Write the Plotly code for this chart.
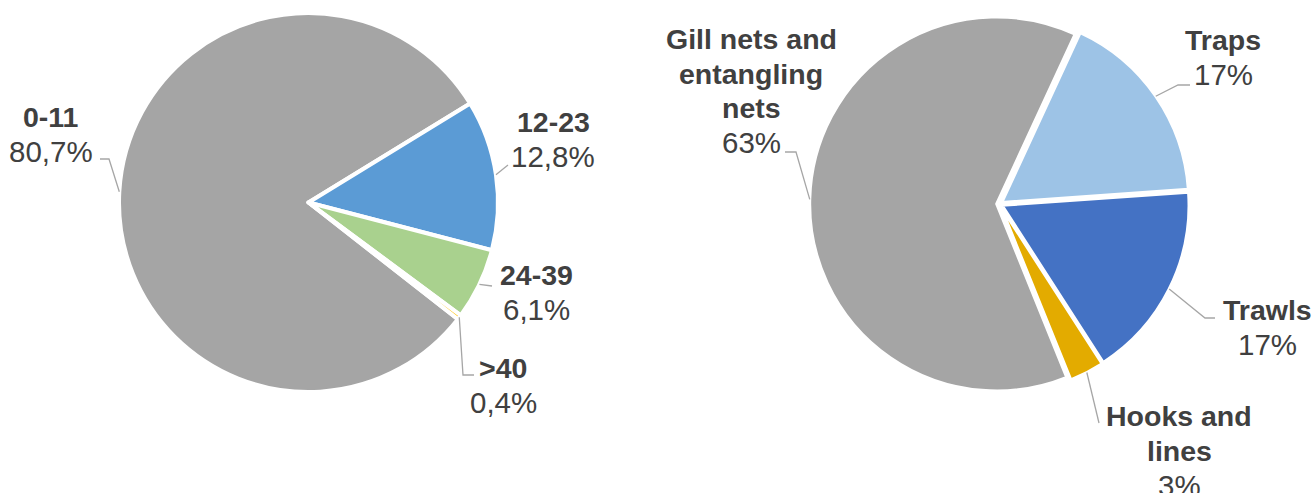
import math
import plotly.graph_objects as go

# ---------------- data ----------------
size_labels = ["0-11", "12-23", "24-39", ">40"]
size_values = [80.7, 12.8, 6.1, 0.4]
size_text = ["80,7%", "12,8%", "6,1%", "0,4%"]

gear_labels = ["Gill nets and<br>entangling<br>nets", "Traps", "Trawls", "Hooks and<br>lines"]
gear_values = [63, 17, 17, 3]
gear_text = ["63%", "17%", "17%", "3%"]

# ---------------- style / layout ----------------
W, H = 1315, 493
FONT = "Liberation Sans, Arial, sans-serif"
TXT = "#404040"
LEADER = "#a6a6a6"
NAME_SIZE = 28.5
PCT_SIZE = 29.5
LINE_STEP = 34.6

size_colors = ["#a5a5a5", "#5b9bd5", "#a9d18e", "#ffc000"]
gear_colors = ["#a5a5a5", "#9dc3e6", "#4472c4", "#e3ab00"]

# pie geometry (pixels)
L_CX, L_CY, L_R, L_ROT, L_PULL = 308.5, 202.5, 189.5, 128.0, 0.0
R_CX, R_CY, R_R, R_ROT, R_PULL = 999.5, 204.0, 187.0, 158.0, 0.015

# label centres and leader elbows/ends (pixels)
size_label_pos = [(51, 134), (553, 139), (536, 292), (503, 385)]
size_leader = [[(109, 159), (100, 159)], [(508, 165)], [(492, 286)], [(463, 375), (474, 375)]]
gear_label_pos = [(751, 91), (1223, 57), (1267, 327), (1179, 451)]
gear_leader = [[(796, 152), (785, 152)], [(1178, 85), (1190, 85)], [(1205, 318), (1215, 318)], [(1099, 423)]]


def px(x):
    return x / W


def py(y):
    return 1 - y / H


def domain(cx, cy, r, pull):
    half = r * (1 + pull)
    return dict(x=[px(cx - half), px(cx + half)], y=[py(cy + half), py(cy - half)])


def mid_points(values, cx, cy, r, rot, pull):
    tot = sum(values)
    a = rot
    pts = []
    for v in values:
        span = 360 * v / tot
        m = math.radians(a + span / 2)
        rr = r * (1 + pull)
        pts.append((cx + rr * math.sin(m), cy - rr * math.cos(m)))
        a += span
    return pts


fig = go.Figure()
fig.add_trace(go.Pie(
    labels=size_labels, values=size_values, sort=False, direction="clockwise",
    rotation=L_ROT, textinfo="none", hoverinfo="label+percent",
    marker=dict(colors=size_colors, line=dict(color="white", width=4)),
    domain=domain(L_CX, L_CY, L_R, L_PULL), showlegend=False,
))
fig.add_trace(go.Pie(
    labels=gear_labels, values=gear_values, sort=False, direction="clockwise",
    rotation=R_ROT, textinfo="none", hoverinfo="label+percent",
    pull=[R_PULL] * len(gear_values),
    marker=dict(colors=gear_colors, line=dict(color="white", width=3)),
    domain=domain(R_CX, R_CY, R_R, R_PULL), showlegend=False,
))

annotations = []
shapes = []


def add_labels(labels, texts, positions, leaders, values, cx, cy, r, rot, pull):
    starts = mid_points(values, cx, cy, r, rot, pull)
    for lab, t, (x, y), lead, st in zip(labels, texts, positions, leaders, starts):
        lines = [(s, True) for s in lab.split("<br>")] + [(t, False)]
        n = len(lines)
        for i, (s, bold) in enumerate(lines):
            yy = y + (i - (n - 1) / 2) * LINE_STEP
            annotations.append(dict(
                x=px(x), y=py(yy), xref="paper", yref="paper",
                xanchor="center", yanchor="middle", showarrow=False,
                text=f"<b>{s}</b>" if bold else s,
                font=dict(family=FONT, size=NAME_SIZE if bold else PCT_SIZE, color=TXT),
            ))
        pts = [st] + lead
        path = "M " + " L ".join(f"{px(a):.5f},{py(b):.5f}" for a, b in pts)
        shapes.append(dict(type="path", path=path, xref="paper", yref="paper",
                           line=dict(color=LEADER, width=1.3)))


add_labels(size_labels, size_text, size_label_pos, size_leader, size_values,
           L_CX, L_CY, L_R, L_ROT, L_PULL)
add_labels(gear_labels, gear_text, gear_label_pos, gear_leader, gear_values,
           R_CX, R_CY, R_R, R_ROT, R_PULL)

fig.update_layout(
    width=W, height=H, margin=dict(l=0, r=0, t=0, b=0),
    paper_bgcolor="white", plot_bgcolor="white",
    annotations=annotations, shapes=shapes,
    font=dict(family=FONT, color=TXT),
)
fig.write_html(
    "out.html",
    config={"displayModeBar": False},
    post_script="document.body.style.margin='0';document.body.style.overflow='hidden';",
)
